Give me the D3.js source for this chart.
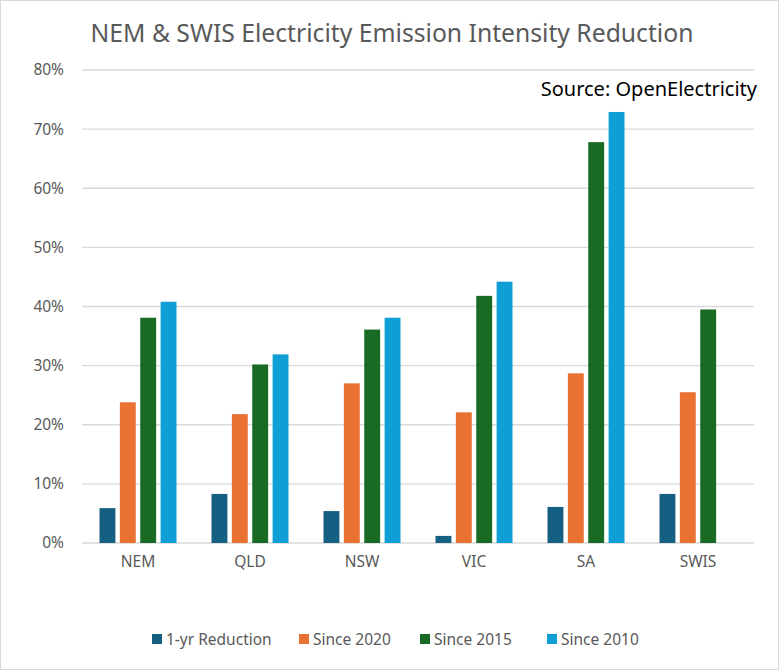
<!DOCTYPE html>
<html>
<head>
<meta charset="utf-8">
<script src="https://cdn.jsdelivr.net/npm/d3@7"></script>
<style>
  html, body { margin: 0; padding: 0; background: #fff; }
  svg { display: block; font-family: "Noto Sans", "Open Sans", sans-serif; }
</style>
</head>
<body>
<svg id="chart" width="784" height="670"></svg>
<script>
const categories = ["NEM", "QLD", "NSW", "VIC", "SA", "SWIS"];
const seriesNames = ["1-yr Reduction", "Since 2020", "Since 2015", "Since 2010"];
const oneYr     = [5.9, 8.3, 5.4, 1.2, 6.1, 8.3];
const since2020 = [23.8, 21.8, 27.0, 22.1, 28.7, 25.5];
const since2015 = [38.1, 30.2, 36.1, 41.8, 67.8, 39.5];
const since2010 = [40.8, 31.9, 38.1, 44.2, 72.9, null];
const seriesColors = ["#156082", "#E97132", "#196B24", "#0F9ED5"];
const yTicks = [0, 10, 20, 30, 40, 50, 60, 70, 80];

const seriesValues = [oneYr, since2020, since2015, since2010];

const svg = d3.select("#chart");
const W = 784, H = 670;

// border
svg.append("rect").attr("x", 0.5).attr("y", 0.5).attr("width", 778).attr("height", H - 1)
  .attr("fill", "#fff").attr("stroke", "#d9d9d9").attr("stroke-width", 1);

const plot = { left: 82, right: 754, top: 70, bottom: 543 };

const x0 = d3.scaleBand().domain(categories).range([plot.left, plot.right])
  .paddingInner(0.3125).paddingOuter(0.15625);
const x1 = d3.scaleBand().domain(seriesNames).range([0, x0.bandwidth()]).paddingInner(0.22).paddingOuter(0);
const y = d3.scaleLinear().domain([0, 80]).range([plot.bottom, plot.top]);

// gridlines
svg.append("g").selectAll("line").data(yTicks).join("line")
  .attr("x1", plot.left).attr("x2", plot.right)
  .attr("y1", d => y(d)).attr("y2", d => y(d))
  .attr("stroke", "#d9d9d9").attr("stroke-width", 1.3);

// y axis labels
const yAxis = d3.axisLeft(y).tickValues(yTicks).tickFormat(d => d + "%").tickSize(0).tickPadding(0);
const gy = svg.append("g").attr("transform", `translate(64,0)`).call(yAxis);
gy.select(".domain").remove();
gy.selectAll("text").attr("fill", "#595959").attr("font-size", 15.5)
  .attr("font-family", "\"Noto Sans\", sans-serif");

// bars
const groups = svg.append("g").selectAll("g").data(categories).join("g")
  .attr("transform", d => `translate(${x0(d)},0)`);
groups.selectAll("rect")
  .data((c, i) => seriesNames.map((s, j) => ({ s, j, v: seriesValues[j][i] })).filter(d => d.v != null))
  .join("rect")
  .attr("x", d => x1(d.s))
  .attr("width", x1.bandwidth())
  .attr("y", d => y(d.v))
  .attr("height", d => y(0) - y(d.v))
  .attr("fill", d => seriesColors[d.j]);

// x axis labels
const xAxis = d3.axisBottom(x0).tickSize(0).tickPadding(0);
const gx = svg.append("g").attr("transform", `translate(0,${plot.bottom + 13})`).call(xAxis);
gx.select(".domain").remove();
gx.selectAll("text").attr("fill", "#595959").attr("font-size", 15.5)
  .attr("font-family", "\"Noto Sans\", sans-serif").attr("dy", "0.71em");

// title
svg.append("text").attr("x", 392).attr("y", 42).attr("text-anchor", "middle")
  .attr("font-size", 24.7).attr("fill", "#595959")
  .text("NEM & SWIS Electricity Emission Intensity Reduction");

// source
svg.append("text").attr("x", 757).attr("y", 96).attr("text-anchor", "end")
  .attr("font-size", 20).attr("fill", "#000")
  .text("Source: OpenElectricity");

// legend
const legendX = [152, 299, 420, 547];
const lg = svg.append("g").selectAll("g").data(seriesNames).join("g")
  .attr("transform", (d, i) => `translate(${legendX[i]},634)`);
lg.append("rect").attr("width", 10).attr("height", 10).attr("fill", (d, i) => seriesColors[i]);
lg.append("text").attr("x", 14).attr("y", 10.8).attr("font-size", 15.5).attr("fill", "#595959").text(d => d);
</script>
</body>
</html>
